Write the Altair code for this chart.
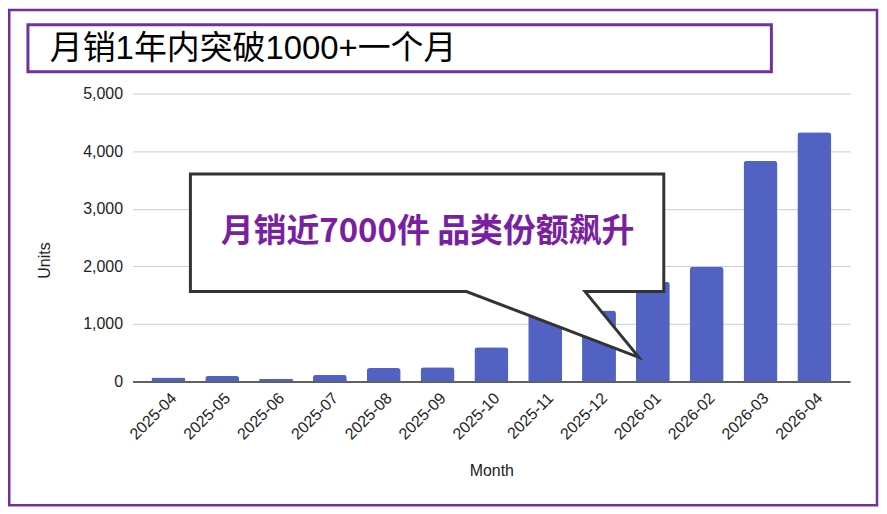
import altair as alt
import pandas as pd

# ---- data ----
months = ["2025-04", "2025-05", "2025-06", "2025-07", "2025-08", "2025-09", "2025-10",
          "2025-11", "2025-12", "2026-01", "2026-02", "2026-03", "2026-04"]
units = [70, 95, 50, 115, 235, 250, 595, 1150, 1235, 1735, 1990, 3830, 4330]
y_ticks = [0, 1000, 2000, 3000, 4000, 5000]

title_text = "月销1年内突破1000+一个月"
callout_text = "月销近7000件 品类份额飙升"
callout_month = "2026-01"
callout_units = 420

PURPLE = "#7030A0"
BAR = "#5262C2"
FONT = "Liberation Sans, Arial, Noto Sans CJK SC"

df = pd.DataFrame({"Month": months, "Units": units})
callout_df = pd.DataFrame({"Month": [callout_month], "Units": [callout_units], "label": [callout_text]})

x_enc = alt.X(
    "Month:N", sort=months, title="Month",
    scale=alt.Scale(paddingInner=0.37, paddingOuter=0.35),
    axis=alt.Axis(labelAngle=-45, labelPadding=8, ticks=False, grid=False,
                  domainColor="#333333", domainWidth=1.5,
                  titleX=360, titleY=89, titleBaseline="middle"),
)
y_enc = alt.Y(
    "Units:Q", title="Units",
    scale=alt.Scale(domain=[0, 5000]),
    axis=alt.Axis(values=y_ticks, format=",d", ticks=False, domain=False,
                  labelPadding=10, gridColor="#cccccc", gridWidth=1,
                  titleX=-88, titleY=167, titleBaseline="middle"),
)

# outer frame and title box (decorations in pixel space)
frame = alt.Chart(pd.DataFrame({"k": [0]})).mark_rect(
    fill="white", fillOpacity=0, stroke=PURPLE, strokeWidth=2.5
).encode(x=alt.value(-123.75), x2=alt.value(747), y=alt.value(-83.75), y2=alt.value(413))

title_box = alt.Chart(pd.DataFrame({"k": [0]})).mark_rect(
    fill="white", stroke=PURPLE, strokeWidth=3
).encode(x=alt.value(-105), x2=alt.value(641), y=alt.value(-69), y2=alt.value(-22))

title = alt.Chart(pd.DataFrame({"t": [title_text]})).mark_text(
    align="left", baseline="middle", fontSize=33, color="#000000", font=FONT
).encode(text="t:N", x=alt.value(-83), y=alt.value(-45))

bars = alt.Chart(df).mark_bar(
    color=BAR, cornerRadiusTopLeft=3, cornerRadiusTopRight=3
).encode(x=x_enc, y=y_enc)

# speech-bubble callout anchored at its tip on the 2026-01 bar
bubble_path = "M -464 -184 L 11 -184 L 11 -66 L -68 -66 L -14 0 L -187 -66 L -464 -66 Z"
bubble = alt.Chart(callout_df).mark_point(
    shape=bubble_path, size=4, filled=True, fill="white", fillOpacity=1,
    stroke="#333333", strokeWidth=3, opacity=1, strokeJoin="miter"
).encode(x=x_enc, y=y_enc)

bubble_text = alt.Chart(callout_df).mark_text(
    dx=-226, dy=-126, fontSize=33, fontWeight="bold", color="#7A1FA2",
    font="Noto Sans CJK SC", align="center", baseline="middle"
).encode(x=x_enc, y=y_enc, text="label:N")

chart = alt.layer(frame, title_box, title, bars, bubble, bubble_text).properties(
    width=720, height=289, padding=0, background="white"
).configure_view(stroke=None).configure_axis(
    labelFont="Liberation Sans", labelFontSize=16, labelColor="#222222",
    titleFont="Liberation Sans", titleFontSize=16, titleFontWeight="normal", titleColor="#222222",
)

chart.save("out.html", embed_options={"renderer": "svg", "actions": False})
